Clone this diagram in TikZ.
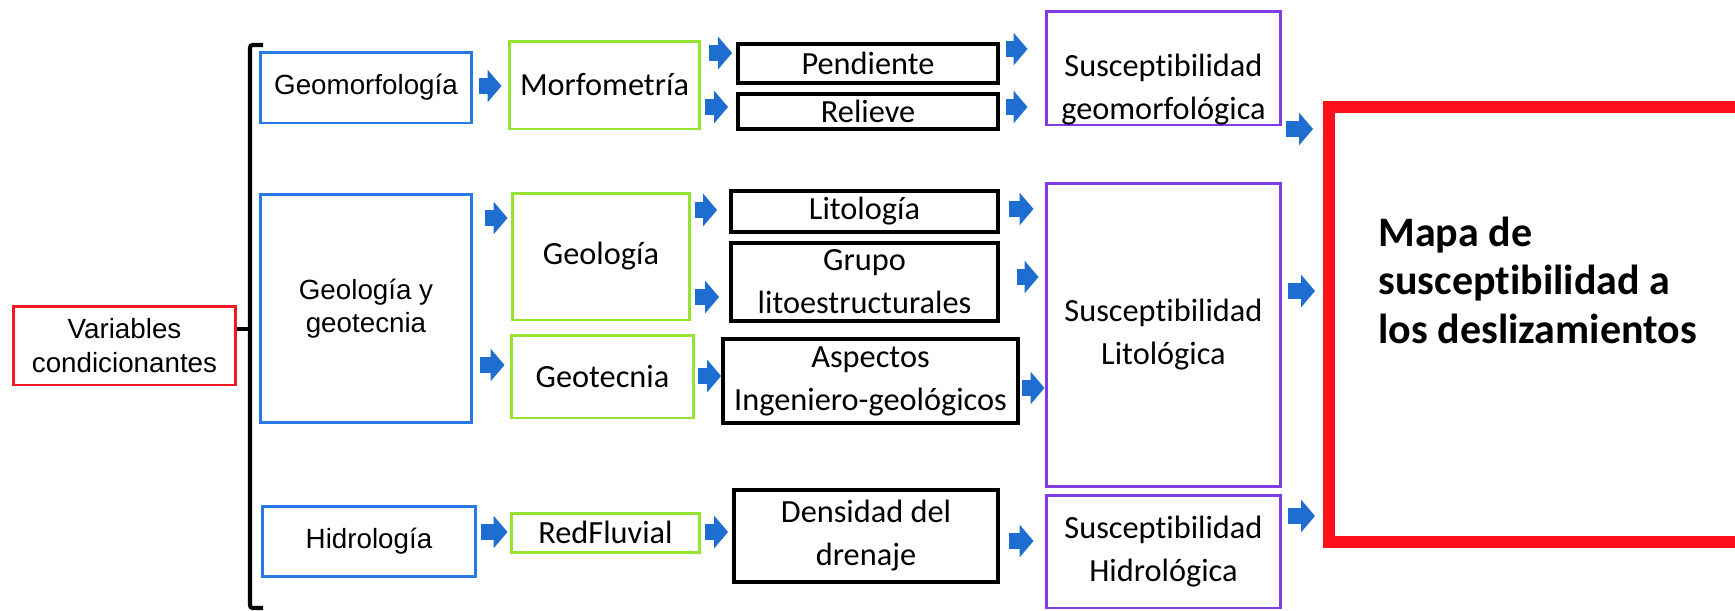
\documentclass[tikz,border=0pt]{standalone}
\usepackage{fontspec}
\setmainfont{Carlito}[Ligatures=NoCommon]
\newfontfamily\arialfont{Liberation Sans}
\usetikzlibrary{arrows.meta,calc}

\tikzset{
	box/.style={draw, line width=1.7pt, inner sep=0pt, align=center, font=\fontsize{18.4}{24.5}\selectfont},
	bluebox/.style={box, draw={rgb,255:red,40;green,120;blue,230}, font=\arialfont\fontsize{15.8}{19}\selectfont},
	redbox/.style={box, draw={rgb,255:red,240;green,25;blue,35}, font=\arialfont\fontsize{15.8}{19}\selectfont},
	greenbox/.style={box, draw={rgb,255:red,150;green,228;blue,50}},
	blackbox/.style={box, line width=2.2pt},
	purplebox/.style={box, draw={rgb,255:red,130;green,60;blue,225}},
	purpletext/.style={inner sep=0pt, align=center, font=\fontsize{18.4}{24.5}\selectfont},
	mapabox/.style={draw={rgb,255:red,255;green,15;blue,25}, line width=0.24cm, inner sep=0pt},
	mapatext/.style={inner sep=0pt, align=left, font=\bfseries\fontsize{23.9}{27.6}\selectfont},
	barrow/.style={line width=0.32cm, color={rgb,255:red,30;green,110;blue,210}, -{Triangle[width=0.64cm,length=0.28cm]}},
	brace/.style={line width=2.3pt, rounded corners=1.5pt}
}

\begin{document}
\begin{tikzpicture}[x=0.02cm, y=-0.02cm]
	\useasboundingbox (0,0) rectangle (1735,610);

	\node[redbox, minimum width=4.46cm, minimum height=1.58cm] (var) at (124.5,345.5) {Variables\\condicionantes};
	\node[bluebox, minimum width=4.24cm, minimum height=1.42cm] (geomorf) at (366,87.5) {Geomorfología};
	\node[bluebox, minimum width=4.24cm, minimum height=4.58cm] (gyg) at (366,308.5) {Geología y\\geotecnia};
	\node[bluebox, minimum width=4.28cm, minimum height=1.40cm] (hidro) at (369,541) {Hidrología};

	\node[greenbox, minimum width=3.82cm, minimum height=1.76cm] (morf) at (604.5,85) {Morfometría};
	\node[greenbox, minimum width=3.56cm, minimum height=2.54cm] (geol) at (601,256.5) {Geología};
	\node[greenbox, minimum width=3.66cm, minimum height=1.66cm] (geot) at (602.5,376.5) {Geotecnia};
	\node[greenbox, minimum width=3.78cm, minimum height=0.78cm] (redf) at (605.5,532.5) {RedFluvial};

	\node[blackbox, minimum width=5.20cm, minimum height=0.78cm] (pend) at (868,63.5) {Pendiente};
	\node[blackbox, minimum width=5.20cm, minimum height=0.70cm] (rel) at (868,111.5) {Relieve};
	\node[blackbox, minimum width=5.34cm, minimum height=0.82cm] (lit) at (864.5,211.5) {Litología};
	\node[blackbox, minimum width=5.34cm, minimum height=1.56cm] (grupo) at (864.5,282) {Grupo\\litoestructurales};
	\node[blackbox, minimum width=5.90cm, minimum height=1.68cm] (asp) at (870.5,381) {Aspectos\\Ingeniero-geológicos};
	\node[blackbox, minimum width=5.28cm, minimum height=1.84cm] (dens) at (866,536) {Densidad del\\drenaje};

	\node[purplebox, minimum width=4.70cm, minimum height=2.28cm] (sgeo) at (1163.5,68) {};
	\node[purpletext] (sgeotxt) at ([yshift=-0.44cm]sgeo.center) {Susceptibilidad\\geomorfológica};
	\node[purplebox, minimum width=4.70cm, minimum height=6.08cm] (slit) at (1163.5,335) {Susceptibilidad\\Litológica};
	\node[purplebox, minimum width=4.70cm, minimum height=2.26cm] (shid) at (1163.5,551.5) {Susceptibilidad\\Hidrológica};

	\node[mapabox, minimum width=8.62cm, minimum height=8.70cm] (mapa) at (1544.5,324.5) {};
	\node[mapatext, anchor=west] (mapatxt) at ([shift={(55,-44.5)}]mapa.west) {Mapa de\\susceptibilidad a\\los deslizamientos};

	\draw[brace] (263,45) -- (250,45) -- (250,608) -- (263,608);
	\coordinate (brk) at (250,329);
	\draw[brace] (var.east |- brk) -- (brk);

	\draw[barrow, shorten <=0.12cm, shorten >=0.12cm] (geomorf.east |- 0,86) -- (morf.west |- 0,86);
	\draw[barrow, shorten <=0.16cm, shorten >=0.08cm] (morf.east |- 0,53) -- (pend.west |- 0,53);
	\draw[barrow, shorten <=0.08cm, shorten >=0.16cm] (morf.east |- 0,107) -- (rel.west |- 0,107);
	\draw[barrow, shorten <=0.12cm, shorten >=0.34cm] (pend.east |- 0,49) -- (sgeo.west |- 0,49);
	\draw[barrow, shorten <=0.12cm, shorten >=0.34cm] (rel.east |- 0,107) -- (sgeo.west |- 0,107);
	\draw[barrow, shorten <=0.08cm, shorten >=0.2cm] (sgeo.east |- 0,129) -- (mapa.west |- 0,129);

	\draw[barrow, shorten <=0.24cm, shorten >=0.06cm] (gyg.east |- 0,218) -- (geol.west |- 0,218);
	\draw[barrow, shorten <=0.14cm, shorten >=0.1cm] (gyg.east |- 0,365) -- (geot.west |- 0,365);
	\draw[barrow, shorten <=0.08cm, shorten >=0.24cm] (geol.east |- 0,210) -- (lit.west |- 0,210);
	\draw[barrow, shorten <=0.08cm, shorten >=0.2cm] (geol.east |- 0,297) -- (grupo.west |- 0,297);
	\draw[barrow, shorten <=0.06cm, shorten >=0cm] (geot.east |- 0,376) -- (asp.west |- 0,376);
	\draw[barrow, shorten <=0.18cm, shorten >=0.22cm] (lit.east |- 0,209) -- (slit.west |- 0,209);
	\draw[barrow, shorten <=0.34cm, shorten >=0.12cm] (grupo.east |- 0,277) -- (slit.west |- 0,277);
	\draw[barrow, shorten <=0.04cm, shorten >=0cm] (asp.east |- 0,388) -- (slit.west |- 0,388);
	\draw[barrow, shorten <=0.12cm, shorten >=0.16cm] (slit.east |- 0,291) -- (mapa.west |- 0,291);

	\draw[barrow, shorten <=0.08cm, shorten >=0.04cm] (hidro.east |- 0,532) -- (redf.west |- 0,532);
	\draw[barrow, shorten <=0.08cm, shorten >=0.08cm] (redf.east |- 0,532) -- (dens.west |- 0,532);
	\draw[barrow, shorten <=0.18cm, shorten >=0.22cm] (dens.east |- 0,541) -- (shid.west |- 0,541);
	\draw[barrow, shorten <=0.12cm, shorten >=0.16cm] (shid.east |- 0,516) -- (mapa.west |- 0,516);
\end{tikzpicture}
\end{document}
